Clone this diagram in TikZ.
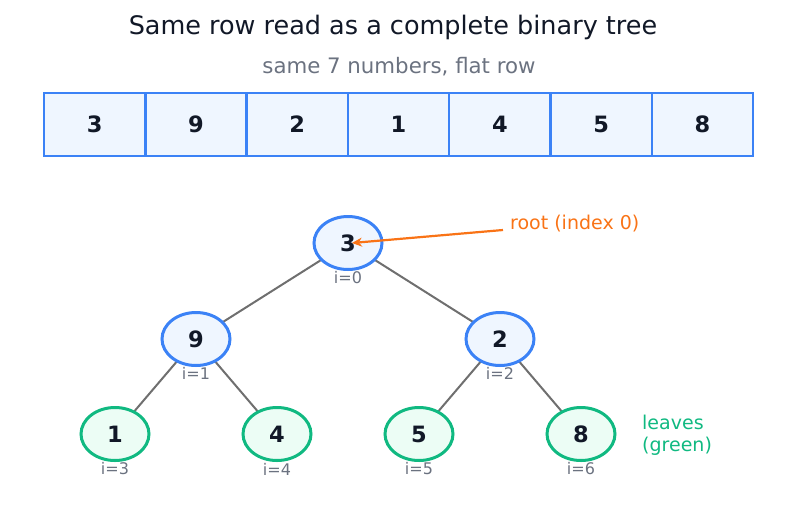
\documentclass[tikz,border=0pt]{standalone}
\usepackage{fontspec}
\setmainfont{DejaVu Sans}
\usetikzlibrary{shapes.geometric,arrows.meta}
\definecolor{blueS}{HTML}{3B82F6}
\definecolor{blueF}{HTML}{EFF6FF}
\definecolor{greenS}{HTML}{10B981}
\definecolor{greenF}{HTML}{ECFDF5}
\definecolor{ink}{HTML}{111827}
\definecolor{grayT}{HTML}{6B7280}
\definecolor{edgeC}{HTML}{6F6F6F}
\definecolor{orangeC}{HTML}{F97316}
\tikzset{
  cellbox/.style={draw=blueS, fill=blueF, line width=2.4pt, minimum width=101.3pt, minimum height=63pt, inner sep=0pt, font=\fontsize{22.5}{26}\selectfont\bfseries, text=ink, anchor=center},
  inner/.style={ellipse, draw=blueS, fill=blueF, line width=3pt, minimum width=68pt, minimum height=53pt, inner sep=0pt, font=\fontsize{22.5}{26}\selectfont\bfseries, text=ink},
  leaf/.style={ellipse, draw=greenS, fill=greenF, line width=3pt, minimum width=68pt, minimum height=53pt, inner sep=0pt, font=\fontsize{22.5}{26}\selectfont\bfseries, text=ink},
  idx/.style={font=\fontsize{16}{19}\selectfont, text=grayT, inner sep=0pt},
  edge/.style={draw=edgeC, line width=2pt},
}
\begin{document}
\begin{tikzpicture}[x=1pt,y=-1pt]
\useasboundingbox (0,0) rectangle (787,512);
\node[font=\fontsize{25.5}{30}\selectfont, text=ink] (title) at (393,27) {Same row read as a complete binary tree};
\node[font=\fontsize{21.3}{25}\selectfont, text=grayT] (sub) at (399,67) {same 7 numbers, flat row};
\foreach \v [count=\i from 0] in {3,9,2,1,4,5,8} {
  \node[cellbox] (c\i) at ({44+101.3*\i+50.65},124.5) {\v};
}
% edges
\coordinate (r) at (348,243);
\coordinate (a1) at (196,339);
\coordinate (a2) at (500,339);
\coordinate (b3) at (115,434);
\coordinate (b4) at (277,434);
\coordinate (b5) at (419,434);
\coordinate (b6) at (581,434);
\draw[edge] (r) -- (a1);
\draw[edge] (r) -- (a2);
\draw[edge] (a1) -- (b3);
\draw[edge] (a1) -- (b4);
\draw[edge] (a2) -- (b5);
\draw[edge] (a2) -- (b6);
\node[inner] (n0) at (r) {3};
\node[inner] (n1) at (a1) {9};
\node[inner] (n2) at (a2) {2};
\node[leaf] (n3) at (b3) {1};
\node[leaf] (n4) at (b4) {4};
\node[leaf] (n5) at (b5) {5};
\node[leaf] (n6) at (b6) {8};
\node[idx] (i0) at (348,278) {i=0};
\node[idx] (i1) at (196,373) {i=1};
\node[idx] (i2) at (500,373) {i=2};
\node[idx] (i3) at (115,469) {i=3};
\node[idx] (i4) at (277,469) {i=4};
\node[idx] (i5) at (419,469) {i=5};
\node[idx] (i6) at (581,469) {i=6};
% root annotation
\node[anchor=west, font=\fontsize{19}{23}\selectfont, text=orangeC, inner sep=0pt] (rootlab) at (510,224) {root (index 0)};
\coordinate (arrS) at (503,230);
\coordinate (arrE) at (352,243);
\draw[draw=orangeC, line width=2.2pt, -{Stealth[length=10pt,width=9pt]}] (arrS) -- (arrE);
\node[anchor=west, font=\fontsize{19}{22}\selectfont, text=greenS, inner sep=0pt, align=left] (leaflab) at (642,435) {leaves\\(green)};
\end{tikzpicture}
\end{document}
